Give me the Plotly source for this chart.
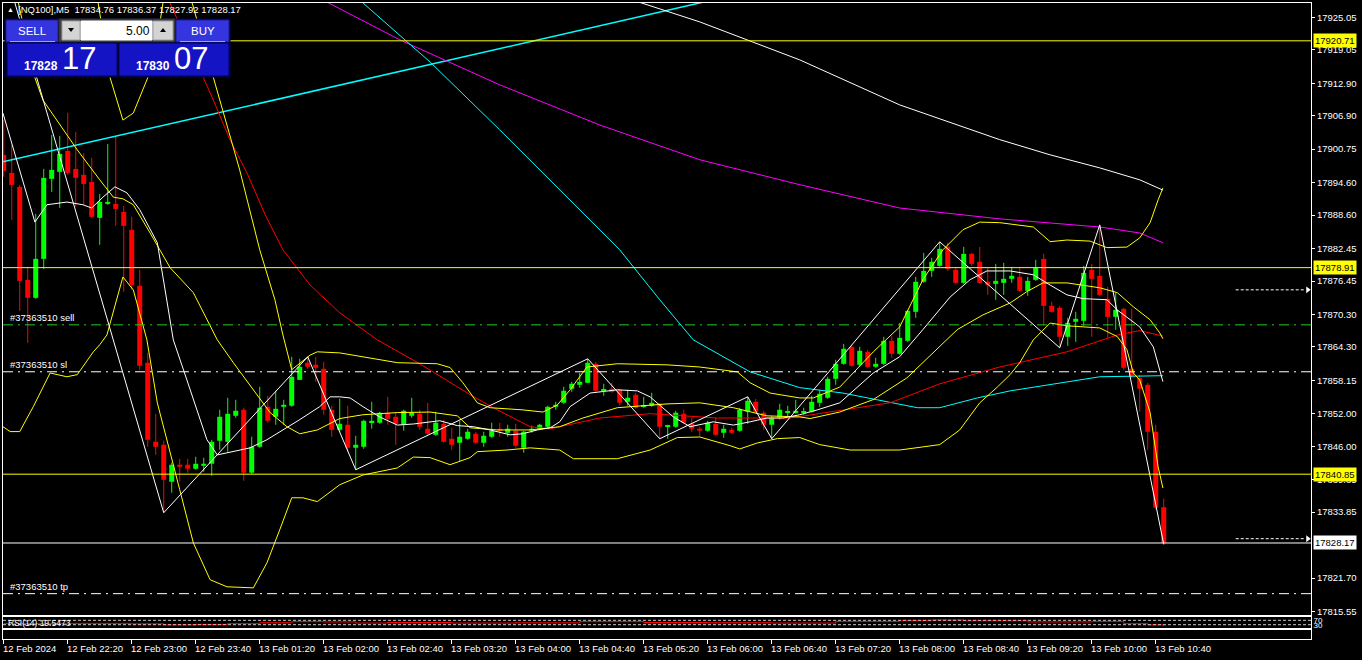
import plotly.graph_objects as go
import pandas as pd

# ---------------- data ----------------
session1 = pd.date_range("2024-02-12 21:40", "2024-02-12 23:55", freq="5min")
session2 = pd.date_range("2024-02-13 01:00", "2024-02-13 10:45", freq="5min")
bar_times = [t.strftime("%Y-%m-%d %H:%M") for t in list(session1) + list(session2)]

opens = [17899.69, 17896.38, 17893.79, 17876.66, 17873.35, 17880.53, 17895.27, 17896.56, 17900.43, 17897.11,
         17896.01, 17894.71, 17888.09, 17890.66, 17890.66, 17889.19, 17885.87, 17875.56, 17861.38, 17846.82,
         17846.27, 17839.45, 17842.59, 17842.59, 17841.85, 17842.40, 17842.77, 17847.01, 17846.82, 17851.61,
         17852.72, 17841.12, 17845.90, 17853.27, 17851.43, 17853.27, 17853.46, 17858.24, 17861.38, 17861.01,
         17860.27, 17852.72, 17849.03, 17849.96, 17845.72, 17845.90, 17850.33, 17850.33, 17852.17, 17851.43,
         17849.96, 17851.61, 17851.98, 17849.22, 17848.11, 17850.14, 17847.38, 17846.64, 17847.38, 17848.30,
         17846.64, 17847.75, 17849.22, 17848.48, 17848.85, 17845.72, 17848.85, 17849.22, 17849.59, 17853.27,
         17854.01, 17856.59, 17857.32, 17857.69, 17861.19, 17856.22, 17856.59, 17856.40, 17854.19, 17855.48,
         17853.27, 17853.46, 17853.82, 17849.59, 17849.59, 17851.98, 17850.14, 17849.22, 17848.85, 17850.14,
         17848.48, 17849.03, 17848.85, 17852.35, 17854.19, 17852.17, 17849.96, 17851.24, 17852.17, 17852.17,
         17852.17, 17852.35, 17854.01, 17854.93, 17858.42, 17861.19, 17864.32, 17861.01, 17863.40, 17860.64,
         17861.19, 17865.43, 17863.04, 17865.43, 17870.77, 17876.30, 17878.32, 17879.24, 17882.74, 17878.51,
         17876.11, 17881.45, 17879.98, 17876.30, 17875.93, 17876.11, 17876.85, 17877.22, 17874.64, 17876.66,
         17880.53, 17871.87, 17871.51, 17866.17, 17868.93, 17869.11, 17878.51, 17877.40, 17873.16, 17869.85,
         17871.32, 17860.27, 17858.61, 17857.32, 17848.67, 17834.76]
highs = [17906.14, 17901.53, 17894.16, 17879.06, 17888.82, 17897.11, 17903.37, 17903.19, 17907.43, 17903.92,
         17900.06, 17899.14, 17892.50, 17901.71, 17903.19, 17890.29, 17888.27, 17878.51, 17863.22, 17851.98,
         17847.01, 17842.96, 17843.69, 17843.69, 17844.06, 17843.88, 17847.19, 17852.72, 17854.93, 17854.56,
         17853.09, 17847.75, 17856.95, 17855.30, 17856.22, 17854.56, 17862.48, 17862.11, 17862.48, 17862.48,
         17861.56, 17853.46, 17854.74, 17853.46, 17847.93, 17850.88, 17854.19, 17852.35, 17855.11, 17852.17,
         17852.72, 17854.93, 17852.72, 17854.01, 17852.35, 17850.88, 17849.40, 17850.69, 17849.22, 17848.67,
         17848.67, 17850.33, 17850.33, 17849.96, 17850.14, 17848.85, 17849.77, 17850.14, 17853.46, 17854.19,
         17856.95, 17857.88, 17859.53, 17862.11, 17861.56, 17857.51, 17857.69, 17856.59, 17856.40, 17855.85,
         17855.11, 17855.85, 17854.01, 17849.96, 17852.53, 17852.72, 17851.24, 17849.59, 17850.69, 17851.24,
         17849.96, 17849.40, 17853.09, 17855.11, 17854.74, 17852.53, 17851.61, 17853.82, 17853.46, 17854.56,
         17853.09, 17855.30, 17856.40, 17858.79, 17861.93, 17864.87, 17864.69, 17864.32, 17863.77, 17862.30,
         17866.17, 17866.35, 17868.74, 17871.14, 17877.22, 17881.64, 17880.72, 17883.66, 17883.48, 17878.88,
         17882.74, 17881.64, 17882.74, 17878.88, 17879.61, 17879.80, 17879.06, 17879.06, 17877.22, 17880.35,
         17881.45, 17872.61, 17871.87, 17869.66, 17870.77, 17879.24, 17879.61, 17886.79, 17875.37, 17874.27,
         17871.51, 17871.32, 17859.16, 17857.69, 17849.96, 17836.37]
lows = [17895.64, 17887.72, 17870.96, 17865.06, 17873.16, 17878.69, 17892.87, 17889.93, 17896.01, 17890.11,
        17890.48, 17888.09, 17883.11, 17890.48, 17886.61, 17874.45, 17874.82, 17860.09, 17845.90, 17844.43,
        17833.75, 17837.43, 17839.45, 17841.12, 17841.67, 17841.30, 17840.56, 17845.35, 17844.98, 17851.24,
        17839.64, 17840.93, 17845.72, 17850.33, 17849.96, 17849.96, 17853.27, 17858.24, 17860.27, 17857.88,
        17851.80, 17847.75, 17848.67, 17844.98, 17841.67, 17845.53, 17849.22, 17850.14, 17849.96, 17846.27,
        17848.85, 17851.24, 17849.03, 17848.11, 17847.93, 17846.64, 17845.35, 17843.14, 17847.19, 17846.46,
        17845.90, 17847.56, 17847.75, 17847.75, 17845.72, 17844.80, 17848.48, 17849.03, 17849.40, 17852.72,
        17853.82, 17856.03, 17856.77, 17857.69, 17856.03, 17855.30, 17855.85, 17853.46, 17853.46, 17852.90,
        17853.09, 17853.27, 17847.38, 17847.38, 17849.40, 17850.14, 17848.67, 17847.75, 17848.67, 17847.93,
        17847.56, 17848.30, 17848.67, 17850.14, 17852.17, 17849.03, 17847.38, 17850.88, 17851.24, 17851.98,
        17851.80, 17852.17, 17853.27, 17854.74, 17857.32, 17861.01, 17860.64, 17860.64, 17860.46, 17860.46,
        17861.01, 17862.30, 17862.85, 17865.24, 17869.66, 17876.11, 17877.22, 17879.06, 17878.32, 17875.93,
        17875.93, 17879.24, 17875.93, 17873.90, 17872.98, 17873.90, 17876.11, 17874.45, 17873.72, 17876.48,
        17868.37, 17870.59, 17864.14, 17864.51, 17865.24, 17868.19, 17866.17, 17873.72, 17865.98, 17867.45,
        17860.09, 17858.61, 17852.35, 17845.35, 17834.30, 17827.92]
closes = [17896.75, 17894.16, 17876.48, 17873.35, 17880.53, 17895.46, 17896.93, 17899.87, 17896.38, 17895.46,
          17894.34, 17888.27, 17891.03, 17891.03, 17889.74, 17886.61, 17875.74, 17860.82, 17847.19, 17845.90,
          17839.82, 17842.59, 17842.22, 17841.85, 17842.77, 17842.77, 17846.82, 17851.43, 17851.98, 17852.53,
          17841.12, 17845.90, 17853.09, 17850.69, 17852.90, 17853.64, 17858.79, 17860.64, 17860.64, 17860.46,
          17852.72, 17849.03, 17850.14, 17845.72, 17846.27, 17850.69, 17850.69, 17852.17, 17851.06, 17850.14,
          17852.53, 17852.17, 17849.59, 17848.30, 17850.33, 17846.82, 17846.27, 17847.75, 17848.67, 17846.64,
          17847.93, 17848.85, 17848.85, 17849.22, 17846.09, 17848.67, 17849.22, 17849.96, 17853.27, 17853.64,
          17856.22, 17857.51, 17857.88, 17861.38, 17856.22, 17856.40, 17856.03, 17854.01, 17854.93, 17853.09,
          17853.46, 17854.01, 17849.59, 17849.77, 17852.17, 17850.33, 17849.22, 17848.85, 17850.33, 17848.11,
          17849.22, 17848.48, 17852.72, 17854.38, 17852.35, 17849.96, 17851.24, 17852.72, 17852.35, 17852.53,
          17852.35, 17854.19, 17855.67, 17858.42, 17861.19, 17863.96, 17860.82, 17863.59, 17860.64, 17861.19,
          17865.43, 17863.04, 17865.98, 17870.95, 17876.30, 17878.32, 17879.98, 17882.37, 17878.69, 17876.11,
          17881.45, 17879.61, 17876.11, 17875.74, 17876.48, 17876.85, 17877.40, 17874.64, 17876.48, 17878.88,
          17871.87, 17870.77, 17866.17, 17868.74, 17869.48, 17877.95, 17876.85, 17873.90, 17869.85, 17871.14,
          17860.46, 17858.98, 17856.59, 17848.67, 17834.67, 17828.17]

tick_times = ["2024-02-12 21:40", "2024-02-12 22:20", "2024-02-12 23:00", "2024-02-12 23:40",
              "2024-02-13 01:20", "2024-02-13 02:00", "2024-02-13 02:40", "2024-02-13 03:20",
              "2024-02-13 04:00", "2024-02-13 04:40", "2024-02-13 05:20", "2024-02-13 06:00",
              "2024-02-13 06:40", "2024-02-13 07:20", "2024-02-13 08:00", "2024-02-13 08:40",
              "2024-02-13 09:20", "2024-02-13 10:00", "2024-02-13 10:40"]
tick_labels = ["12 Feb 2024", "12 Feb 22:20", "12 Feb 23:00", "12 Feb 23:40", "13 Feb 01:20",
               "13 Feb 02:00", "13 Feb 02:40", "13 Feb 03:20", "13 Feb 04:00", "13 Feb 04:40",
               "13 Feb 05:20", "13 Feb 06:00", "13 Feb 06:40", "13 Feb 07:20", "13 Feb 08:00",
               "13 Feb 08:40", "13 Feb 09:20", "13 Feb 10:00", "13 Feb 10:40"]

price_ticks = [17925.05, 17919.05, 17912.90, 17906.90, 17900.75, 17894.60, 17888.60, 17882.45,
               17876.45, 17870.30, 17864.30, 17858.15, 17852.00, 17846.00, 17839.85, 17833.85,
               17821.70, 17815.55]

# indicator curves: (bar position, price)
bb_up_pos = [11.7, 13.3, 14.9, 16.2, 18.0, 19.2, 20.0, 21.5, 23.3, 26.2, 27.0, 29.5, 32.0, 33.9, 34.9, 36.0,
             38.3, 39.2, 42.0, 44.9, 49.2, 54.2, 55.8, 57.4, 59.2, 60.8, 64.9, 67.4, 69.2, 70.8, 72.9, 76.7,
             82.9, 87.0, 91.7, 93.3, 95.8, 99.5, 101.2, 104.5, 108.7, 112.0, 114.9, 117.4, 119.9, 122.0, 124.5,
             128.7, 130.8, 132.9, 135.8, 137.9, 140.4, 142.0, 143.3, 144.3, 144.9]
bb_up_val = [17928.6, 17913.9, 17906.1, 17907.4, 17913.9, 17921.0, 17928.6, 17934.0, 17929.0, 17913.9,
             17909.8, 17896.9, 17882.2, 17873.0, 17866.5, 17860.1, 17862.8, 17863.4, 17863.2, 17862.5,
             17861.4, 17861.2, 17860.5, 17857.7, 17854.0, 17853.1, 17852.7, 17852.3, 17853.6, 17856.4,
             17860.6, 17861.2, 17861.0, 17860.6, 17859.7, 17857.7, 17855.8, 17854.9, 17854.9, 17856.9,
             17863.4, 17868.0, 17876.7, 17882.2, 17885.9, 17887.3, 17887.2, 17886.4, 17883.7, 17884.0,
             17883.8, 17882.6, 17882.7, 17884.4, 17887.2, 17891.4, 17893.6]
bb_mid_pos = [1.7, 3.9, 4.9, 9.2, 12.0, 13.7, 14.9, 16.2, 18.3, 20.8, 23.7, 26.7, 28.7, 31.2, 33.3, 35.4,
              37.0, 39.2, 42.0, 44.9, 49.2, 53.3, 56.7, 58.3, 61.7, 65.8, 69.5, 72.4, 76.7, 82.9, 87.0, 91.2,
              95.4, 99.5, 100.8, 104.5, 108.7, 112.9, 114.9, 119.2, 122.4, 125.8, 127.9, 129.9, 132.9, 137.0,
              139.2, 141.2, 143.3, 144.5, 144.9]
bb_mid_val = [17928.6, 17913.9, 17909.8, 17900.6, 17895.1, 17891.9, 17891.6, 17890.5, 17885.3, 17878.9,
              17874.3, 17865.6, 17861.4, 17856.4, 17852.2, 17849.6, 17848.3, 17849.0, 17851.1, 17851.8,
              17852.2, 17852.3, 17851.6, 17849.4, 17849.0, 17849.0, 17849.6, 17851.2, 17853.1, 17853.8,
              17854.0, 17853.1, 17851.6, 17851.4, 17851.1, 17852.3, 17854.6, 17858.6, 17861.4, 17867.5,
              17870.2, 17872.4, 17874.5, 17876.1, 17876.1, 17875.2, 17874.3, 17871.7, 17869.3, 17866.9,
              17865.8]
bb_low_pos = [-0.1, 0.8, 2.0, 3.7, 5.8, 7.9, 9.2, 11.2, 12.0, 12.9, 14.9, 16.2, 17.9, 19.2, 22.0, 23.7, 25.8,
              27.9, 31.2, 32.9, 34.5, 36.0, 37.4, 39.2, 42.0, 44.9, 49.2, 51.2, 53.3, 55.8, 58.3, 59.2, 62.9,
              65.8, 69.5, 71.2, 76.7, 80.8, 84.2, 87.0, 90.8, 92.0, 94.2, 96.7, 99.5, 102.0, 105.8, 112.0,
              117.0, 119.5, 122.0, 124.2, 125.8, 127.0, 128.7, 130.8, 132.9, 137.0, 139.2, 140.4, 141.2,
              142.0, 143.3, 144.3, 144.9]
bb_low_val = [17849.6, 17848.7, 17848.7, 17853.3, 17859.5, 17858.8, 17859.2, 17863.4, 17864.7, 17866.5,
              17877.2, 17874.8, 17865.6, 17854.0, 17838.0, 17828.2, 17821.4, 17820.1, 17819.9, 17824.5,
              17830.6, 17836.5, 17836.5, 17835.8, 17838.9, 17840.7, 17842.0, 17844.0, 17843.9, 17842.6,
              17843.9, 17845.0, 17845.3, 17845.7, 17845.3, 17843.7, 17843.7, 17845.3, 17847.6, 17847.7,
              17846.1, 17845.5, 17846.6, 17847.4, 17847.6, 17846.3, 17845.3, 17845.3, 17846.3, 17849.0,
              17854.0, 17856.9, 17859.2, 17861.4, 17865.6, 17868.7, 17868.2, 17867.8, 17866.2, 17863.8,
              17859.5, 17858.2, 17852.2, 17842.2, 17838.3]
red_ma_pos = [20.5, 25.0, 26.2, 28.3, 30.4, 32.7, 34.9, 38.3, 42.0, 46.7, 52.0, 58.3, 61.2, 65.8, 68.3, 74.5,
              80.8, 89.2, 98.3, 110.8, 117.0, 124.5, 132.9, 139.2, 142.0, 144.9]
red_ma_val = [17928.6, 17913.9, 17909.8, 17902.4, 17896.4, 17888.6, 17882.2, 17875.7, 17870.6, 17865.6,
              17861.2, 17855.5, 17853.1, 17849.6, 17849.2, 17851.2, 17852.0, 17851.2, 17851.2, 17854.0,
              17857.5, 17860.6, 17863.4, 17866.5, 17867.3, 17866.3]
cyan_ma_pos = [43.9, 53.3, 62.0, 69.5, 77.0, 82.0, 86.2, 93.3, 99.5, 104.9, 110.8, 114.2, 117.0, 121.7, 125.8,
               137.0, 144.9]
cyan_ma_val = [17929.0, 17916.8, 17904.3, 17893.2, 17882.2, 17873.0, 17865.6, 17859.7, 17856.8, 17855.8,
               17854.0, 17853.1, 17853.1, 17854.9, 17856.2, 17858.8, 17859.0]
trend_pos = [-0.1, 90.0]
trend_val = [17898.4, 17928.7]
magenta_pos = [38.9, 49.5, 62.0, 74.5, 87.0, 99.5, 112.0, 124.5, 137.0, 142.0, 144.9]
magenta_val = [17929.0, 17920.9, 17912.6, 17905.2, 17898.8, 17894.2, 17889.9, 17887.9, 17886.4, 17885.3,
               17883.5]
white_slow_pos = [77.0, 87.0, 99.5, 112.0, 124.5, 130.8, 137.0, 142.0, 144.9]
white_slow_val = [17929.0, 17924.2, 17917.2, 17908.9, 17902.5, 17899.7, 17897.3, 17895.1, 17893.2]
white_fast_pos = [-0.1, 3.9, 5.4, 7.9, 9.9, 11.0, 12.4, 13.9, 15.4, 17.0, 19.2, 21.2, 22.9, 25.4, 26.7, 28.7,
                  30.8, 32.9, 34.9, 37.0, 39.5, 40.8, 42.0, 43.3, 44.9, 47.0, 49.2, 51.2, 54.5, 56.7, 58.7,
                  60.8, 63.3, 64.9, 66.7, 68.3, 69.5, 70.8, 73.3, 76.7, 79.2, 80.8, 83.7, 85.8, 88.7, 91.2,
                  93.3, 95.4, 97.4, 99.5, 101.7, 104.5, 108.7, 112.0, 114.9, 118.3, 120.8, 122.9, 125.8,
                  128.7, 130.8, 132.9, 134.9, 137.9, 139.2, 142.0, 143.7, 144.9]
white_fast_val = [17907.4, 17887.3, 17890.5, 17891.0, 17890.5, 17889.9, 17891.9, 17893.8, 17892.7, 17889.6,
                  17883.5, 17865.6, 17858.2, 17847.2, 17844.4, 17845.0, 17845.7, 17847.2, 17849.0, 17850.9,
                  17853.3, 17855.1, 17855.1, 17854.9, 17853.3, 17851.4, 17849.9, 17850.1, 17850.7, 17849.8,
                  17849.6, 17849.0, 17848.1, 17848.3, 17849.0, 17849.4, 17850.5, 17853.3, 17855.8, 17856.4,
                  17856.2, 17855.1, 17851.4, 17849.6, 17850.5, 17849.9, 17850.5, 17851.2, 17851.2, 17851.8,
                  17852.7, 17854.0, 17859.5, 17862.5, 17867.5, 17873.5, 17876.7, 17878.3, 17878.3, 17877.6,
                  17875.7, 17873.9, 17873.2, 17873.0, 17871.1, 17868.0, 17864.3, 17857.9]
zz_pos = [-1, 20, 38, 44, 73, 82, 93, 96, 117, 132, 137, 145]
zz_val = [17939.8, 17833.75, 17862.48, 17841.67, 17862.11, 17847.38, 17855.11, 17847.38, 17883.66,
          17864.14, 17886.79, 17827.92]

rsi_pos = [0, 8, 16, 20, 24, 28, 32, 36, 40, 44, 48, 56, 64, 72, 80, 88, 96, 104, 112, 116, 120, 128, 136,
           140, 143, 145]
rsi_val = [40, 42, 38, 28, 33, 40, 48, 58, 55, 45, 50, 45, 47, 58, 50, 48, 45, 60, 66, 73, 65, 55, 60, 40,
           28, 19.5473]

yellow_levels = [17920.71, 17878.91, 17840.85]
bid_price = 17828.17
ask_price = 17830.07
lot_size = 5.00
order_id = "#37363510"
order_levels = {"sell": 17868.37, "sl": 17859.72, "tp": 17818.83}
arrow_levels = [17874.82, 17828.96]

# ---------------- layout helpers ----------------
W, H = 1362, 660
ML, MR, MT, MB = 3, 51, 3, 21
PW, PH = W - ML - MR, H - MT - MB
FONT = "Liberation Sans, Arial, sans-serif"


def fx(x):
    return (x - ML) / PW


def fy(y):
    return (H - MB - y) / PH


n = len(bar_times)
pos = list(range(n))
bull = [i for i in pos if closes[i] >= opens[i]]
bear = [i for i in pos if closes[i] < opens[i]]

fig = go.Figure()


def add_wicks(idx, color):
    xs, ys = [], []
    for i in idx:
        xs += [i, i, None]
        ys += [lows[i], highs[i], None]
    fig.add_trace(go.Scatter(x=xs, y=ys, mode="lines", line=dict(color=color, width=1),
                             hoverinfo="skip", showlegend=False))


def add_bodies(idx, color):
    base = [min(opens[i], closes[i]) for i in idx]
    hgt = [max(abs(closes[i] - opens[i]), 0.18) for i in idx]
    fig.add_trace(go.Bar(x=idx, y=hgt, base=base, width=0.625,
                         marker=dict(color=color, line=dict(width=0)),
                         hoverinfo="skip", showlegend=False))


add_wicks(bull, "#00ff00")
add_wicks(bear, "#ff0000")
add_bodies(bull, "#00ff00")
add_bodies(bear, "#ff0000")


def add_line(xv, yv, color, width=1):
    fig.add_trace(go.Scatter(x=xv, y=yv, mode="lines", line=dict(color=color, width=width),
                             hoverinfo="skip", showlegend=False))


add_line(trend_pos, trend_val, "#00ffff", 1.5)
add_line(magenta_pos, magenta_val, "#ff00ff")
add_line(white_slow_pos, white_slow_val, "#ffffff")
add_line(cyan_ma_pos, cyan_ma_val, "#00ffff")
add_line(red_ma_pos, red_ma_val, "#ff0000")
add_line(bb_up_pos, bb_up_val, "#ffff00")
add_line(bb_mid_pos, bb_mid_val, "#ffff00")
add_line(bb_low_pos, bb_low_val, "#ffff00")
add_line(white_fast_pos, white_fast_val, "#ffffff")
add_line(zz_pos, zz_val, "#ffffff")

# arrow heads of the trade markers
fig.add_trace(go.Scatter(x=[163.0] * len(arrow_levels), y=arrow_levels, mode="markers",
                         marker=dict(symbol="triangle-right", size=6, color="#ffffff"),
                         hoverinfo="skip", showlegend=False))

# RSI
fig.add_trace(go.Scatter(x=rsi_pos, y=rsi_val, mode="lines", line=dict(color="#ff0000", width=1, shape="hv"),
                         xaxis="x2", yaxis="y2", hoverinfo="skip", showlegend=False))

shapes = []
for lv in yellow_levels:
    shapes.append(dict(type="line", xref="x domain", yref="y", x0=0, x1=1, y0=lv, y1=lv,
                       line=dict(color="#ffff00", width=1)))
shapes.append(dict(type="line", xref="x domain", yref="y", x0=0, x1=1, y0=bid_price, y1=bid_price,
                   line=dict(color="#ffffff", width=1)))
shapes.append(dict(type="line", xref="x domain", yref="y", x0=0, x1=1, y0=order_levels["sell"],
                   y1=order_levels["sell"], line=dict(color="#22cc22", width=1, dash="10px,5px,2px,5px")))
for key in ["sl", "tp"]:
    shapes.append(dict(type="line", xref="x domain", yref="y", x0=0, x1=1, y0=order_levels[key],
                       y1=order_levels[key], line=dict(color="#ffffff", width=1, dash="10px,5px,2px,5px")))
for lv in arrow_levels:
    shapes.append(dict(type="line", xref="x", yref="y", x0=154.0, x1=162.6, y0=lv, y1=lv,
                       line=dict(color="#ffffff", width=1, dash="3px,2px")))
for lv in [30, 70]:
    shapes.append(dict(type="line", xref="x2 domain", yref="y2", x0=0, x1=1, y0=lv, y1=lv,
                       line=dict(color="#c8c8c8", width=1, dash="3px,2px")))


def prect(x0, y0, x1, y1, fill, line=None, lw=1):
    shapes.append(dict(type="rect", xref="paper", yref="paper", x0=fx(x0), x1=fx(x1), y0=fy(y1), y1=fy(y0),
                       fillcolor=fill, line=dict(color=line or fill, width=lw), layer="above"))


def pline(x0, y0, x1, y1, color):
    shapes.append(dict(type="line", xref="paper", yref="paper", x0=fx(x0), x1=fx(x1), y0=fy(y0), y1=fy(y1),
                       line=dict(color=color, width=1), layer="above"))


def ptri(cx, cy, up, color="#000000"):
    if up:
        path = f"M {fx(cx-3)} {fy(cy+2)} L {fx(cx+3)} {fy(cy+2)} L {fx(cx)} {fy(cy-2)} Z"
    else:
        path = f"M {fx(cx-3)} {fy(cy-2)} L {fx(cx+3)} {fy(cy-2)} L {fx(cx)} {fy(cy+2)} Z"
    shapes.append(dict(type="path", xref="paper", yref="paper", path=path, fillcolor=color,
                       line=dict(color=color, width=0), layer="above"))


# one-click trading panel
prect(5, 19, 230, 77, "#000000", "#000050")
prect(6, 20, 58, 42, "#3535e0", "#1a1a90")
pline(10, 41.5, 55, 41.5, "#a0a0ff")
prect(176, 20, 229, 42, "#3535e0", "#1a1a90")
pline(180, 41.5, 225, 41.5, "#a0a0ff")
prect(59, 19, 175, 42, "#404040", "#303030")
prect(62, 21, 80, 40, "#d4d4d4", "#a0a0a0")
prect(153, 21, 173, 40, "#d4d4d4", "#a0a0a0")
prect(81, 21, 152, 40, "#ffffff", "#ffffff")
ptri(71, 30, False)
ptri(163, 30, True)
prect(7, 43, 117, 76, "#1414c4", "#000070")
prect(119, 43, 229, 76, "#1414c4", "#000070")

ann = []


def ptext(x, y, text, size, color="#ffffff", xanchor="left", bold=False, yanchor="middle"):
    t = f"<b>{text}</b>" if bold else text
    ann.append(dict(xref="paper", yref="paper", x=fx(x), y=fy(y), text=t, showarrow=False,
                    xanchor=xanchor, yanchor=yanchor, font=dict(family=FONT, size=size, color=color),
                    borderpad=0))


nb = "\u00a0"
header = (f"[NQ100],M5{nb}{nb}{opens[-1]:.2f}{nb}{highs[-1]:.2f}{nb}{lows[-1]:.2f}{nb}{closes[-1]:.2f}")
ptext(6, 9.5, "▲", 7)
ptext(17, 9.5, header, 9.5)
ptext(32, 30.5, "SELL", 11.5, xanchor="center")
ptext(203, 30.5, "BUY", 11.5, xanchor="center")
ptext(151, 30.5, f"{lot_size:.2f}", 12, color="#000000", xanchor="right")
bid_main, bid_frac = f"{bid_price:.2f}".split(".")
ask_main, ask_frac = f"{ask_price:.2f}".split(".")
ptext(23, 66, bid_main, 12, bold=True)
ptext(61, 58, bid_frac, 31)
ptext(135, 66, ask_main, 12, bold=True)
ptext(173, 58, ask_frac, 31)

# order labels
for key in ["sell", "sl", "tp"]:
    ann.append(dict(xref="paper", yref="y", x=fx(9), y=order_levels[key], yshift=7, text=f"{order_id} {key}",
                    showarrow=False, xanchor="left", yanchor="middle",
                    font=dict(family=FONT, size=9.5, color="#ffffff"), borderpad=0))

# RSI label
ann.append(dict(xref="paper", yref="paper", x=fx(7), y=fy(623), text=f"RSI(14) {rsi_val[-1]:.4f}",
                showarrow=False, xanchor="left", yanchor="middle",
                font=dict(family=FONT, size=8.5, color="#ffffff"), borderpad=0))

# price badges on the axis
for lv in yellow_levels:
    ann.append(dict(xref="paper", yref="y", x=1, xshift=2, y=lv, text=f"{lv:.2f}", showarrow=False,
                    xanchor="left", yanchor="middle", bgcolor="#ffff00", borderpad=1,
                    font=dict(family=FONT, size=9.5, color="#000000")))
ann.append(dict(xref="paper", yref="y", x=1, xshift=2, y=bid_price, text=f"{bid_price:.2f}", showarrow=False,
                xanchor="left", yanchor="middle", bgcolor="#ffffff", borderpad=1,
                font=dict(family=FONT, size=9.5, color="#000000")))

# time labels
tick_pos = [bar_times.index(t) for t in tick_times]
for p, lab in zip(tick_pos, tick_labels):
    ann.append(dict(xref="x3", yref="paper", x=p, y=fy(648), text=lab, showarrow=False,
                    xanchor="left", yanchor="middle", xshift=-2,
                    font=dict(family=FONT, size=9.5, color="#ffffff"), borderpad=0))

X_RANGE = [-0.09, 163.41]
Y_RANGE = [17814.90, 17927.68]
axline = dict(showline=True, mirror=True, linecolor="#ffffff", linewidth=1, showgrid=False,
              zeroline=False, fixedrange=True)

fig.update_layout(
    width=W, height=H, margin=dict(l=ML, r=MR, t=MT, b=MB),
    paper_bgcolor="#000000", plot_bgcolor="#000000",
    barmode="overlay", showlegend=False, hovermode=False,
    font=dict(family=FONT, size=9.5, color="#ffffff"),
    xaxis=dict(domain=[0, 1], anchor="y", range=X_RANGE, showticklabels=False, ticks="", **axline),
    xaxis2=dict(domain=[0, 1], anchor="y2", matches="x", showticklabels=False, ticks="", **axline),
    xaxis3=dict(domain=[0, 1], anchor="y3", matches="x", showticklabels=False, ticks="outside",
                ticklen=4, tickcolor="#ffffff", tickvals=tick_pos, **axline),
    yaxis=dict(domain=[fy(615), 1], anchor="x", side="right", range=Y_RANGE, tickvals=price_ticks,
               ticktext=[f"{v:.2f}" for v in price_ticks], ticks="outside", ticklen=3, tickcolor="#ffffff",
               tickfont=dict(family=FONT, size=9.5, color="#ffffff"), **axline),
    yaxis2=dict(domain=[fy(628), fy(617)], anchor="x2", side="right", range=[0, 100], tickvals=[30, 70],
                ticktext=["30", "70"], ticks="", tickfont=dict(family=FONT, size=8, color="#ffffff"), **axline),
    yaxis3=dict(domain=[0, fy(630)], anchor="x3", range=[0, 1], showticklabels=False, ticks="", **axline),
    shapes=shapes, annotations=ann,
)

fig.write_html("out.html", config={"displayModeBar": False},
               post_script="document.body.style.margin='0px';document.body.style.background='#000000';")
